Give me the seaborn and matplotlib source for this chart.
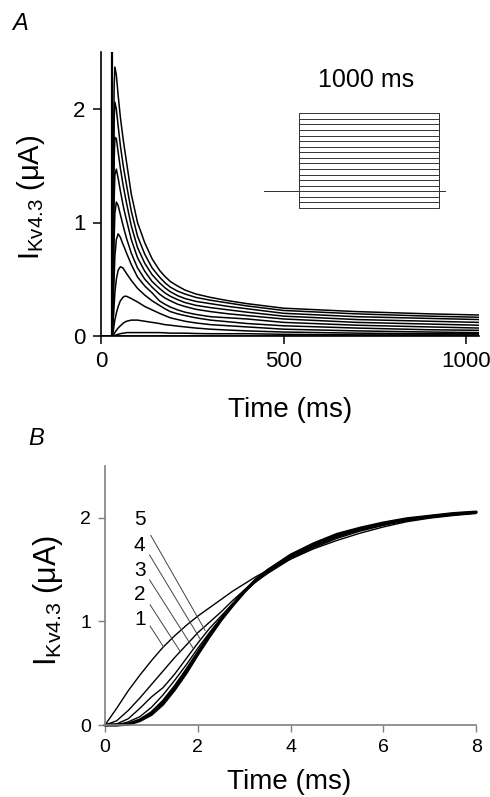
import matplotlib
matplotlib.use("Agg")
import matplotlib.pyplot as plt
import seaborn as sns
import pandas as pd

# ---------------- Panel A data: Kv4.3 current traces (uA) vs time (ms)
time_a = [0, 30, 32, 34, 36, 38, 42, 47, 53, 60, 64, 70, 83, 100, 120, 140,
          160, 175, 190, 210, 230, 260, 300, 350, 400, 500, 700, 900, 1035]
trace_a1 = [0, 0, 0.6, 1.5, 2.2, 2.37, 2.3, 2.12, 1.93, 1.75, 1.66, 1.53, 1.25, 1.0, 0.82, 0.68, 0.58, 0.525, 0.48, 0.44, 0.405, 0.37, 0.34, 0.31, 0.285, 0.245, 0.215, 0.195, 0.185]
trace_a2 = [0, 0, 0.5, 1.3, 1.9, 2.06, 2.0, 1.85, 1.68, 1.52, 1.44, 1.33, 1.1, 0.88, 0.72, 0.6, 0.52, 0.47, 0.43, 0.395, 0.37, 0.34, 0.315, 0.29, 0.265, 0.225, 0.195, 0.175, 0.165]
trace_a3 = [0, 0, 0.4, 1.0, 1.55, 1.75, 1.74, 1.62, 1.48, 1.34, 1.27, 1.17, 0.97, 0.78, 0.64, 0.54, 0.47, 0.425, 0.39, 0.355, 0.33, 0.305, 0.285, 0.26, 0.24, 0.20, 0.17, 0.155, 0.145]
trace_a4 = [0, 0, 0.3, 0.75, 1.2, 1.42, 1.47, 1.39, 1.28, 1.16, 1.1, 1.02, 0.85, 0.69, 0.57, 0.48, 0.42, 0.38, 0.35, 0.32, 0.295, 0.27, 0.25, 0.23, 0.21, 0.175, 0.145, 0.13, 0.12]
trace_a5 = [0, 0, 0.2, 0.5, 0.85, 1.08, 1.18, 1.15, 1.07, 0.98, 0.93, 0.86, 0.73, 0.6, 0.5, 0.43, 0.37, 0.335, 0.31, 0.28, 0.26, 0.235, 0.215, 0.195, 0.18, 0.15, 0.12, 0.105, 0.095]
trace_a6 = [0, 0, 0.1, 0.3, 0.52, 0.7, 0.85, 0.9, 0.87, 0.81, 0.78, 0.73, 0.63, 0.52, 0.44, 0.38, 0.31, 0.28, 0.255, 0.23, 0.21, 0.19, 0.17, 0.16, 0.15, 0.12, 0.095, 0.08, 0.07]
trace_a7 = [0, 0, 0.05, 0.15, 0.27, 0.38, 0.5, 0.58, 0.61, 0.6, 0.58, 0.55, 0.49, 0.42, 0.36, 0.31, 0.27, 0.24, 0.215, 0.195, 0.18, 0.16, 0.14, 0.125, 0.11, 0.09, 0.07, 0.055, 0.05]
trace_a8 = [0, 0, 0.02, 0.05, 0.1, 0.14, 0.2, 0.26, 0.31, 0.34, 0.35, 0.35, 0.33, 0.3, 0.26, 0.23, 0.2, 0.18, 0.16, 0.145, 0.13, 0.115, 0.1, 0.09, 0.08, 0.06, 0.045, 0.035, 0.03]
trace_a9 = [0, 0, 0, 0.01, 0.02, 0.03, 0.05, 0.07, 0.09, 0.11, 0.12, 0.13, 0.14, 0.14, 0.13, 0.12, 0.11, 0.10, 0.095, 0.087, 0.08, 0.07, 0.06, 0.052, 0.045, 0.035, 0.025, 0.02, 0.02]
trace_a10 = [0, 0, 0, 0, 0, 0.005, 0.01, 0.015, 0.02, 0.025, 0.025, 0.03, 0.03, 0.03, 0.03, 0.03, 0.03, 0.028, 0.025, 0.025, 0.025, 0.022, 0.02, 0.02, 0.02, 0.015, 0.01, 0.01, 0.01]
trace_a0 = [0] * 29
artifact_t = 30  # capacitive transient at step onset (ms)

# voltage protocol inset (mV, ms)
step_levels = [-110, -100, -90, -80, -70, -60, -50, -40, -30, -20, -10, 0,
               10, 20, 30, 40, 50, 60]
holding_mv = -80
step_ms = 1000
pre_ms = 250
post_ms = 43

# ---------------- Panel B data: activation (uA) vs time (ms)
time_b = [0, 0.25, 0.5, 0.75, 1.0, 1.25, 1.5, 1.75, 2.0, 2.25, 2.5, 2.75,
          3.0, 3.25, 3.5, 4.0, 4.5, 5.0, 5.5, 6.0, 6.5, 7.0, 7.5, 8.0]
curve_b1 = [0, 0.16, 0.33, 0.48, 0.62, 0.75, 0.86, 0.96, 1.05, 1.13, 1.21, 1.29, 1.36, 1.43, 1.49, 1.60, 1.70, 1.78, 1.85, 1.91, 1.96, 1.995, 2.02, 2.04]
curve_b2 = [0, 0.04, 0.14, 0.26, 0.39, 0.52, 0.65, 0.77, 0.89, 0.99, 1.09, 1.20, 1.30, 1.38, 1.46, 1.60, 1.71, 1.80, 1.87, 1.925, 1.97, 2.0, 2.025, 2.045]
curve_b3 = [0, 0.01, 0.06, 0.16, 0.27, 0.36, 0.49, 0.64, 0.79, 0.93, 1.05, 1.17, 1.28, 1.38, 1.47, 1.61, 1.72, 1.81, 1.88, 1.93, 1.975, 2.005, 2.03, 2.05]
curve_b4 = [0, 0.0, 0.03, 0.08, 0.17, 0.29, 0.43, 0.58, 0.74, 0.89, 1.03, 1.16, 1.28, 1.39, 1.48, 1.62, 1.73, 1.82, 1.89, 1.94, 1.98, 2.01, 2.035, 2.05]
curve_b5 = [0, 0, 0.01, 0.05, 0.12, 0.23, 0.37, 0.53, 0.70, 0.87, 1.02, 1.16, 1.29, 1.40, 1.49, 1.63, 1.74, 1.83, 1.89, 1.94, 1.98, 2.01, 2.035, 2.05]
curve_b6 = [0, 0, 0.005, 0.04, 0.10, 0.20, 0.34, 0.50, 0.68, 0.85, 1.01, 1.15, 1.28, 1.40, 1.49, 1.64, 1.75, 1.84, 1.90, 1.95, 1.99, 2.015, 2.04, 2.055]

label_names = ["1", "2", "3", "4", "5"]
label_t = [0.75, 0.75, 0.75, 0.75, 0.75]
label_i = [1.02, 1.26, 1.49, 1.73, 1.98]
leader_t0 = [0.97, 0.97, 0.96, 0.96, 0.985]
leader_i0 = [0.955, 1.16, 1.40, 1.64, 1.83]
leader_t1 = [1.26, 1.62, 1.90, 2.05, 2.16]
leader_i1 = [0.755, 0.71, 0.74, 0.83, 0.91]

# ---------------- build frames
traces_a = [trace_a1, trace_a2, trace_a3, trace_a4, trace_a5, trace_a6,
            trace_a7, trace_a8, trace_a9, trace_a10, trace_a0]
rows = []
for k, tr in enumerate(traces_a):
    for t, v in zip(time_a, tr):
        rows.append({"t": t, "I": v, "trace": k})
df_a = pd.DataFrame(rows)

rows = []
for v in step_levels:
    xs = [-pre_ms, 0, 0, step_ms, step_ms, step_ms + post_ms]
    ys = [holding_mv, holding_mv, v, v, holding_mv, holding_mv]
    for x, y in zip(xs, ys):
        rows.append({"t": x, "V": y, "level": v})
df_p = pd.DataFrame(rows)

def long_b(curves, start):
    r = []
    for k, c in enumerate(curves):
        for t, v in zip(time_b, c):
            r.append({"t": t, "I": v, "curve": start + k})
    return pd.DataFrame(r)

df_b_thin = long_b([curve_b1, curve_b2, curve_b3, curve_b4, curve_b5], 1)
df_b_thick = long_b([curve_b5, curve_b6], 5)

# ---------------- style
sns.set_theme(style="ticks")
plt.rcParams["font.family"] = ["Liberation Sans", "DejaVu Sans"]
plt.rcParams["mathtext.fontset"] = "custom"
plt.rcParams["mathtext.rm"] = "Liberation Sans"
plt.rcParams["mathtext.it"] = "Liberation Sans:italic"
for key in ["text.color", "axes.labelcolor", "xtick.color", "ytick.color",
            "xtick.labelcolor", "ytick.labelcolor"]:
    plt.rcParams[key] = "black"

W, H = 490, 797
fig = plt.figure(figsize=(W / 100, H / 100), dpi=100)

def axes_px(left, top, right, bottom):
    return fig.add_axes([left / W, 1 - bottom / H, (right - left) / W, (bottom - top) / H])

ylabel = r"I$_{\mathrm{Kv4.3}}$ (μA)"

# ---------------- Panel A
axA = axes_px(101, 52.25, 478.8, 336)
sns.lineplot(data=df_a, x="t", y="I", units="trace", estimator=None,
             color="black", lw=1.1, ax=axA, legend=False, sort=False)
axA.plot([artifact_t, artifact_t], [0, 2.5], color="black", lw=1.6)
axA.set_xlim(0, 1035)
axA.set_ylim(0, 2.5)
axA.set_xticks([0, 500, 1000])
axA.set_yticks([0, 1, 2])
axA.tick_params(direction="out", length=6, width=1.1, labelsize=16,
                color="black", labelcolor="black", pad=5)
for s in ["left", "bottom"]:
    axA.spines[s].set_color("black")
    axA.spines[s].set_linewidth(1.2)
sns.despine(ax=axA)
axA.set_xlabel("Time (ms)", fontsize=20, va="center")
axA.set_ylabel(ylabel, fontsize=21, va="center", ha="center")
axA.xaxis.set_label_coords(0.50, -0.262)
axA.yaxis.set_label_coords(-0.186, 0.49)

# inset protocol
axP = axes_px(264, 113.3, 445, 208)
sns.lineplot(data=df_p, x="t", y="V", units="level", estimator=None,
             color="#333333", lw=0.7, ax=axP, legend=False, sort=False)
axP.set_xlim(-pre_ms, step_ms + post_ms)
axP.set_ylim(min(step_levels), max(step_levels))
axP.axis("off")
for ln in axP.lines:
    ln.set_clip_on(False)
fig.text(366 / W, 1 - 80 / H, "1000 ms", fontsize=18, ha="center", va="center")

# ---------------- Panel B
axB = axes_px(105, 465.75, 476.2, 725)
sns.lineplot(data=df_b_thin, x="t", y="I", units="curve", estimator=None,
             color="black", lw=1.0, ax=axB, legend=False, sort=False)
sns.lineplot(data=df_b_thick, x="t", y="I", units="curve", estimator=None,
             color="black", lw=2.0, ax=axB, legend=False, sort=False)
for ln in axB.lines:
    ln.set_clip_on(False)
for n, tx, iy, a0, b0, a1, b1 in zip(label_names, label_t, label_i,
                                     leader_t0, leader_i0, leader_t1, leader_i1):
    axB.text(tx, iy, n, fontsize=15, ha="center", va="center")
    axB.plot([a0, a1], [b0, b1], color="#444444", lw=0.7)
axB.set_xlim(0, 8)
axB.set_ylim(0, 2.5)
axB.set_xticks([0, 2, 4, 6, 8])
axB.set_yticks([0, 1, 2])
axB.tick_params(direction="out", length=5, width=1.0, labelsize=14,
                color="#808080", labelcolor="black", pad=5)
for s in ["left", "bottom"]:
    axB.spines[s].set_color("#808080")
    axB.spines[s].set_linewidth(1.2)
sns.despine(ax=axB)
axB.set_xlabel("Time (ms)", fontsize=20, va="center")
axB.set_ylabel(ylabel, fontsize=22, va="center", ha="center")
axB.xaxis.set_label_coords(0.496, -0.218)
axB.yaxis.set_label_coords(-0.154, 0.482)

# panel letters
fig.text(20.5 / W, 1 - 23.5 / H, "A", fontsize=17, style="italic",
         ha="center", va="center")
fig.text(36.5 / W, 1 - 438.5 / H, "B", fontsize=17, style="italic",
         ha="center", va="center")

fig.savefig("out.png", dpi=100)
